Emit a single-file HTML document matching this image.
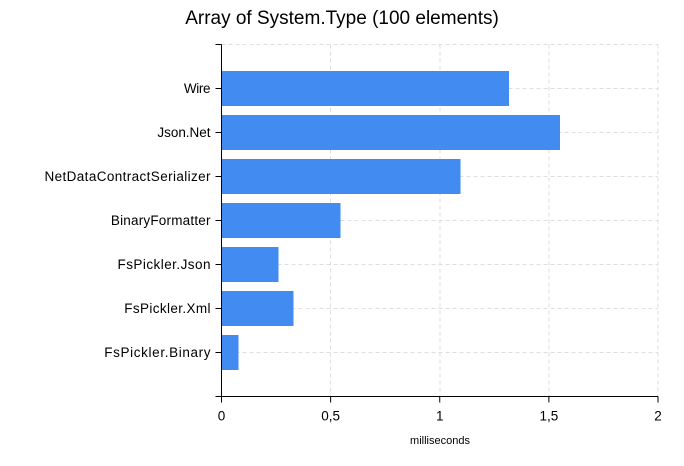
<!DOCTYPE html>
<html><head><meta charset="utf-8"><style>
body{margin:0;background:#fff;font-family:"Liberation Sans","DejaVu Sans",sans-serif}
</style></head><body>
<svg width="684" height="461" xmlns="http://www.w3.org/2000/svg">
<text x="342" y="24" text-anchor="middle" font-size="19" fill="#000">Array of System.Type (100 elements)</text>
<g id="grid" shape-rendering="crispEdges"></g><g id="bars" shape-rendering="crispEdges"></g><g id="axes"></g>
<text x="440" y="444" text-anchor="middle" font-size="11" fill="#000">milliseconds</text>
</svg>
<script>
const categories=["Wire","Json.Net","NetDataContractSerializer","BinaryFormatter","FsPickler.Json","FsPickler.Xml","FsPickler.Binary"];
const values=[1.318,1.551,1.094,0.545,0.261,0.33,0.077];
const xTicks=[0,0.5,1,1.5,2];
const xTickLabels=["0","0,5","1","1,5","2"];
const NS="http://www.w3.org/2000/svg";
const x0=221.5,x1=658,yTop=44.5,yBot=396.5;
const xs=v=>x0+(v-0)/(2-0)*(x1-x0);
const band=(yBot-yTop)/(categories.length+1);
const ys=i=>yTop+band*(i+1);
function mk(tag,attrs,parent){const e=document.createElementNS(NS,tag);for(const k in attrs)e.setAttribute(k,attrs[k]);parent.appendChild(e);return e;}
const grid=document.getElementById('grid'),bars=document.getElementById('bars'),axes=document.getElementById('axes');
xTicks.forEach((t,i)=>{
 if(i>0){const l=mk('line',{x1:xs(t),x2:xs(t),y1:yTop,y2:yBot,stroke:'#dedede','stroke-dasharray':'4,3'},grid);
 
 }
 const tk=mk('line',{x1:xs(t),x2:xs(t),y1:yBot,y2:yBot+6,stroke:'#000'},axes);
 
 
 const tx=mk('text',{x:xs(t),y:yBot+24,'text-anchor':'middle','font-size':'13.5',fill:'#000'},axes);
 tx.textContent=xTickLabels[i];
 
 
});
const gl=mk('line',{x1:x0,x2:x1,y1:yTop,y2:yTop,stroke:'#dedede','stroke-dasharray':'4,3'},grid);


categories.forEach((c,i)=>{
 const y=ys(i);
 const g=mk('line',{x1:x0,x2:x1,y1:y,y2:y,stroke:'#dedede','stroke-dasharray':'4,3'},grid);
 
 
 const r=mk('rect',{x:x0,y:y-17.5,width:xs(values[i])-x0,height:35,fill:'#428bf0'},bars);
 
 
 const tk=mk('line',{x1:x0-6,x2:x0,y1:y,y2:y,stroke:'#000'},axes);
 
 
 const t=mk('text',{x:x0-11,y:y+4.5,'text-anchor':'end','font-size':'13.5',fill:'#000'},axes);
 t.setAttribute('textLength', (c.length*6.64).toFixed(1));
 t.textContent=c;
 
 
});
[yTop,yBot].forEach(y=>{const tk=mk('line',{x1:x0-6,x2:x0,y1:y,y2:y,stroke:'#000'},axes);
 
 });
const ya=mk('line',{x1:x0,x2:x0,y1:yTop,y2:yBot,stroke:'#000'},axes);


const xa=mk('line',{x1:x0-6,x2:x1,y1:yBot,y2:yBot,stroke:'#000'},axes);


</script>
</body></html>
